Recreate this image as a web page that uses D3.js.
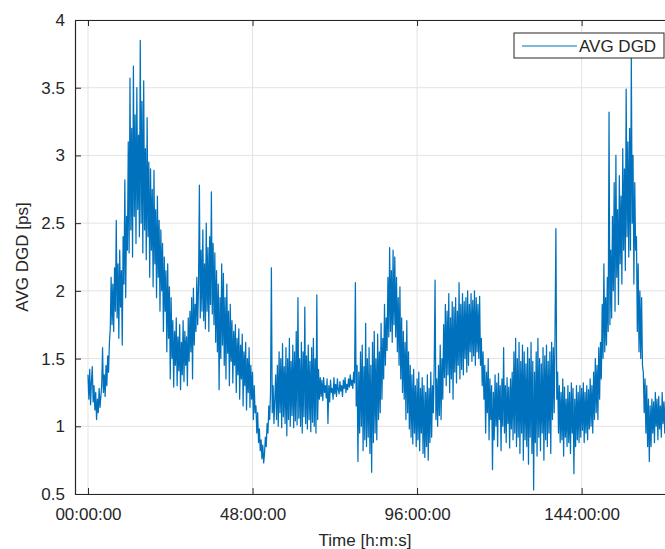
<!DOCTYPE html>
<html>
<head>
<meta charset="utf-8">
<script src="https://cdn.jsdelivr.net/npm/d3@7"></script>
<style>
  body { margin: 0; background: #fff; }
  svg { display: block; font-family: "Liberation Sans", Arial, Helvetica, sans-serif; }
</style>
</head>
<body>
<svg id="chart" width="665" height="549"></svg>
<script>
// sample step in hours
let step = 0.25;
// AVG DGD [ps], one value every quarter hour from 00:00:00 (8 values = 2 h per row)
let dgd = [
  1.38,1.20,1.42,1.16,1.33,1.44,1.18,1.30,
  1.12,1.25,1.05,1.20,1.10,1.28,1.14,1.22,
  1.30,1.58,1.25,1.38,1.22,1.45,1.30,1.52,
  1.40,1.62,1.72,2.10,1.75,2.05,1.70,2.17,
  1.85,2.52,1.80,2.20,1.65,2.30,1.88,2.15,
  1.60,2.40,2.05,2.82,1.95,2.55,2.30,3.10,
  2.28,3.57,2.45,3.20,2.25,3.66,2.55,3.30,
  2.35,3.50,2.60,3.15,2.40,3.85,2.50,3.40,
  2.28,3.55,2.45,3.05,2.23,3.28,2.40,2.95,
  2.10,2.90,2.30,2.75,2.03,2.89,2.20,2.60,
  1.95,2.70,2.10,2.52,1.85,2.45,2.00,2.35,
  1.70,2.25,1.85,2.15,1.55,2.20,1.65,2.03,
  1.35,1.95,1.50,1.78,1.29,1.70,1.45,1.80,
  1.30,1.66,1.41,1.75,1.27,1.62,1.38,1.78,
  1.33,1.70,1.45,1.66,1.30,1.80,1.48,1.85,
  1.55,1.95,1.35,2.02,1.60,1.90,1.70,2.10,
  1.75,2.05,2.78,1.80,2.30,1.85,2.45,1.78,
  2.20,1.72,2.50,1.85,2.32,1.70,2.40,1.90,
  2.73,1.83,2.35,1.75,2.28,1.62,2.15,1.55,
  2.05,1.27,1.95,1.50,2.20,1.60,2.13,1.45,
  1.95,1.35,2.05,1.54,1.85,1.30,1.90,1.48,
  1.78,1.32,1.70,1.45,1.75,1.25,1.65,1.38,
  1.72,1.20,1.60,1.35,1.68,1.15,1.55,1.30,
  1.62,1.12,1.50,1.25,1.58,1.14,1.45,1.20,
  1.40,1.05,1.30,1.10,1.15,0.95,1.10,0.88,
  0.98,0.82,0.90,0.76,0.86,0.73,0.80,0.92,
  0.85,1.02,0.95,1.15,1.05,1.25,2.17,1.10,
  1.30,1.02,1.20,1.38,1.05,1.45,1.00,1.55,
  1.10,1.50,0.99,1.61,1.07,1.44,1.02,1.58,
  0.93,1.50,1.05,1.65,1.00,1.48,1.08,1.60,
  0.99,1.55,1.04,1.70,1.01,1.95,1.06,1.50,
  1.00,1.62,0.95,1.55,1.07,1.88,1.02,1.52,
  0.98,1.60,1.05,1.48,0.96,1.58,1.03,1.65,
  1.00,1.50,0.95,1.97,1.05,1.42,1.20,1.36,
  1.22,1.34,1.19,1.36,1.25,1.30,1.21,1.35,
  1.02,1.30,1.18,1.34,1.25,1.28,1.20,1.36,
  1.24,1.31,1.22,1.35,1.27,1.24,1.33,1.26,
  1.30,1.22,1.34,1.28,1.36,1.25,1.31,1.27,
  1.35,1.29,1.38,1.30,1.34,1.28,1.40,1.32,
  2.06,1.15,1.45,0.74,1.40,0.95,1.55,1.00,
  1.60,0.82,1.44,0.90,1.76,0.85,1.50,0.92,
  1.58,0.80,1.45,0.66,1.62,0.88,1.70,0.95,
  1.50,0.90,1.68,1.05,1.55,1.10,1.76,1.20,
  1.65,1.35,1.90,1.45,1.80,1.56,2.10,1.66,
  2.32,1.70,2.15,1.62,2.30,1.75,2.25,1.66,
  2.10,1.55,1.95,1.45,2.03,1.35,1.80,1.25,
  1.70,1.20,1.62,1.05,1.78,1.10,1.55,0.98,
  1.45,0.92,1.38,0.87,1.42,0.95,1.30,0.85,
  1.35,0.90,1.40,0.82,1.28,0.95,1.36,0.80,
  1.30,0.77,1.25,0.85,1.38,0.75,1.28,0.88,
  1.40,0.92,1.30,1.10,1.45,2.08,1.05,1.35,
  1.00,1.45,1.08,1.60,1.05,1.50,1.20,1.75,
  1.36,1.90,1.30,1.85,1.38,1.98,1.25,1.80,
  1.35,1.92,1.20,1.88,1.40,1.95,1.32,1.85,
  1.45,2.06,1.35,1.90,1.42,1.98,1.38,1.92,
  1.50,1.95,1.40,2.00,1.45,1.90,1.55,1.98,
  1.48,1.93,1.52,2.00,1.45,1.95,1.55,1.90,
  1.50,1.96,1.45,1.65,1.30,1.55,1.20,1.45,
  0.95,1.40,1.10,1.50,0.90,1.35,1.05,1.30,
  0.68,1.25,0.90,1.38,1.00,1.32,0.85,1.39,
  1.05,1.30,0.82,1.35,1.00,1.58,0.95,1.30,
  0.88,1.36,1.02,1.29,0.84,1.35,0.98,1.40,
  0.90,1.55,0.95,1.65,0.85,1.50,0.92,1.62,
  0.80,1.48,0.95,1.60,0.75,1.55,0.90,1.46,
  0.85,1.58,0.72,1.50,0.92,1.62,0.80,1.48,
  0.53,1.40,0.88,1.55,0.78,1.65,0.92,1.50,
  0.82,1.46,0.95,1.58,0.75,1.52,0.90,1.60,
  0.85,1.48,0.95,1.55,0.80,1.62,1.05,1.58,
  1.10,1.70,2.46,1.20,1.40,0.95,1.30,0.88,
  1.25,0.90,1.35,0.78,1.29,0.92,1.20,0.85,
  1.30,0.88,1.25,0.80,1.32,0.95,1.28,0.65,
  1.20,0.85,1.30,0.90,1.25,0.88,1.30,0.92,
  1.28,0.97,1.32,0.88,1.25,0.95,1.30,0.90,
  1.27,0.98,1.35,1.00,1.30,0.95,1.40,1.05,
  1.50,1.10,1.45,1.05,1.58,1.20,1.62,1.35,
  1.90,1.50,2.20,1.55,1.95,1.60,2.10,1.70,
  3.32,1.75,2.30,1.80,2.55,2.00,2.80,1.85,
  3.00,2.10,2.60,1.90,2.85,2.20,2.70,2.05,
  3.05,2.30,2.90,2.15,3.49,2.40,3.10,2.25,
  3.20,2.30,3.72,2.50,3.00,2.05,2.80,2.30,
  2.40,1.70,2.20,1.55,2.00,1.50,1.95,1.45,
  1.40,1.10,1.35,0.95,1.30,0.85,1.20,0.74,
  1.15,0.85,1.20,0.95,1.18,0.88,1.25,1.00,
  1.20,0.90,1.22,0.98,1.15,0.92,1.25,1.02,
  1.18,0.95,1.20,1.00
];
let xTicks = [0, 48, 96, 144];
let yTicks = [0.5, 1, 1.5, 2, 2.5, 3, 3.5, 4];
let seriesName = "AVG DGD";

let svg = d3.select("#chart");
let mLeft = 75, mRight = 668, mTop = 20, mBottom = 494;

let x = d3.scaleLinear().domain([-3.79, 169.2]).range([mLeft, mRight]);
let y = d3.scaleLinear().domain([0.5, 4]).range([mBottom, mTop]);

let data = dgd.map(function(v, i) { return {t: i * step, v: v}; });

function hms(h) {
    return String(h).padStart(2, "0") + ":00:00";
}

svg.append("defs").append("clipPath").attr("id", "clip")
    .append("rect")
    .attr("x", mLeft).attr("y", mTop)
    .attr("width", mRight - mLeft).attr("height", mBottom - mTop);

// grid
let grid = svg.append("g").attr("class", "grid");
grid.selectAll("line.gx")
    .data(xTicks)
    .enter().append("line")
    .attr("x1", function(d) { return x(d); })
    .attr("x2", function(d) { return x(d); })
    .attr("y1", mTop).attr("y2", mBottom)
    .attr("stroke", "#e3e3e3").attr("stroke-width", 1);
grid.selectAll("line.gy")
    .data(yTicks)
    .enter().append("line")
    .attr("y1", function(d) { return y(d); })
    .attr("y2", function(d) { return y(d); })
    .attr("x1", mLeft).attr("x2", mRight)
    .attr("stroke", "#e3e3e3").attr("stroke-width", 1);

// series
let line = d3.line()
    .x(function(d) { return x(d.t); })
    .y(function(d) { return y(d.v); });

svg.append("path")
    .datum(data)
    .attr("clip-path", "url(#clip)")
    .attr("fill", "none")
    .attr("stroke", "#0072bd")
    .attr("stroke-width", 1.25)
    .attr("stroke-linejoin", "round")
    .attr("d", line);

// axes (MATLAB style: ticks inside, box on)
let axisColor = "#262626";
let xAxis = svg.append("g")
    .attr("transform", "translate(0," + mBottom + ")")
    .call(d3.axisBottom(x).tickValues(xTicks).tickFormat(hms).tickSizeInner(-6).tickSizeOuter(0).tickPadding(14));
let xTop = svg.append("g")
    .attr("transform", "translate(0," + mTop + ")")
    .call(d3.axisTop(x).tickValues(xTicks).tickFormat("").tickSizeInner(-6).tickSizeOuter(0));
let yAxis = svg.append("g")
    .attr("transform", "translate(" + mLeft + ",0)")
    .call(d3.axisLeft(y).tickValues(yTicks).tickFormat(d3.format("")).tickSizeInner(-6).tickSizeOuter(0).tickPadding(10));

[xAxis, xTop, yAxis].forEach(function(g) {
    g.select(".domain").attr("stroke", axisColor).attr("stroke-width", 1.2);
    g.selectAll(".tick line").attr("stroke", axisColor);
    g.selectAll(".tick text")
        .attr("fill", axisColor)
        .style("font-size", "17px")
        .style("font-family", "'Liberation Sans', Arial, sans-serif");
});

// axis labels
svg.append("text")
    .attr("x", (mLeft + 665) / 2 - 5)
    .attr("y", 546)
    .attr("text-anchor", "middle")
    .attr("fill", axisColor)
    .style("font-size", "17px")
    .text("Time [h:m:s]");

svg.append("text")
    .attr("transform", "translate(28," + ((mTop + mBottom) / 2) + ") rotate(-90)")
    .attr("text-anchor", "middle")
    .attr("fill", axisColor)
    .style("font-size", "17px")
    .text("AVG DGD [ps]");

// legend
let legend = svg.append("g").attr("transform", "translate(514,33)");
legend.append("rect")
    .attr("width", 150).attr("height", 25)
    .attr("fill", "#fff")
    .attr("stroke", axisColor).attr("stroke-width", 1);
legend.append("line")
    .attr("x1", 8).attr("x2", 63)
    .attr("y1", 13).attr("y2", 13)
    .attr("stroke", "#0072bd").attr("stroke-width", 1);
legend.append("text")
    .attr("x", 65).attr("y", 19)
    .attr("fill", axisColor)
    .style("font-size", "17px")
    .text(seriesName);
</script>
</body>
</html>
